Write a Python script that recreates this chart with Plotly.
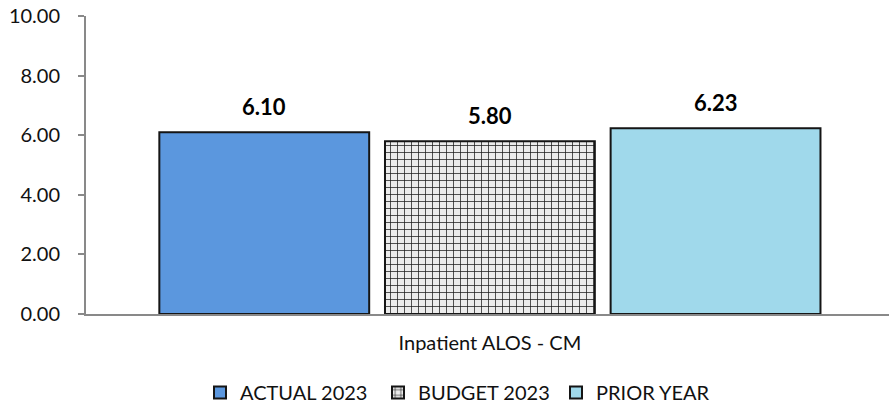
import plotly.graph_objects as go

categories = ["Inpatient ALOS - CM"]
series_names = ["ACTUAL 2023", "BUDGET 2023", "PRIOR YEAR"]
actual_2023 = [6.10]
budget_2023 = [5.80]
prior_year = [6.23]
y_ticks = [0, 2, 4, 6, 8, 10]
y_tick_labels = ["0.00", "2.00", "4.00", "6.00", "8.00", "10.00"]

FONT = "Lato, 'Liberation Sans', sans-serif"
W, H = 890, 408
L, R, T, B = 86, 1, 16, 94
TXT = "#111111"

fig = go.Figure()
styles = [
    dict(color="#5b97de", pattern=None),
    dict(color="#ececec", pattern=dict(shape="+", size=7, solidity=0.2,
                                        fgcolor="#1a1a1a", bgcolor="#ececec", fillmode="replace")),
    dict(color="#a0d9eb", pattern=None),
]
series = [actual_2023, budget_2023, prior_year]
for name, vals, st in zip(series_names, series, styles):
    marker = dict(color=st["color"], line=dict(color="#151515", width=2))
    if st["pattern"]:
        marker["pattern"] = st["pattern"]
    fig.add_trace(go.Bar(x=categories, y=vals, name=name, marker=marker,
                         hoverinfo="skip"))

bargap = 0.157
bargroupgap = 0.07
plot_w = W - L - R
plot_h = H - T - B
slot = plot_w * (1 - bargap) / 3
for i, vals in enumerate(series):
    for c, v in zip(categories, vals):
        fig.add_annotation(x=c, y=v, xref="x", yref="y", text=f"<b>{v:.2f}</b>",
                           showarrow=False, yanchor="bottom", yshift=10,
                           xshift=(i - 1) * slot,
                           font=dict(family=FONT, size=22, color="#000000"))

fig.update_layout(
    width=W, height=H,
    margin=dict(l=L, r=R, t=T, b=B, autoexpand=False),
    paper_bgcolor="white", plot_bgcolor="white",
    barmode="group", bargap=bargap, bargroupgap=bargroupgap,
    font=dict(family=FONT, size=20, color=TXT),
    showlegend=True,
    legend=dict(orientation="h", x=(200 - L) / plot_w, xanchor="left",
                y=-(373 - (T + plot_h)) / plot_h, yanchor="top",
                font=dict(family=FONT, size=20, color=TXT),
                entrywidth=133, itemsizing="constant", bgcolor="rgba(0,0,0,0)"),
    xaxis=dict(range=[-0.503, 0.497], showline=True, linecolor="#898989", linewidth=2,
               ticks="", showgrid=False, ticklabelstandoff=10, automargin=False,
               tickfont=dict(family=FONT, size=20, color=TXT)),
    yaxis=dict(range=[0, 10], tickvals=y_ticks, ticktext=y_tick_labels,
               showline=True, linecolor="#898989", linewidth=2,
               ticks="outside", ticklen=6, tickcolor="#898989", tickwidth=1.5,
               showgrid=False, zeroline=False, ticklabelstandoff=14, automargin=False,
               tickfont=dict(family=FONT, size=20, color=TXT)),
)

fig.write_html("out.html", config={"displayModeBar": False},
               post_script="document.body.style.margin='0';document.body.style.overflow='hidden';")
